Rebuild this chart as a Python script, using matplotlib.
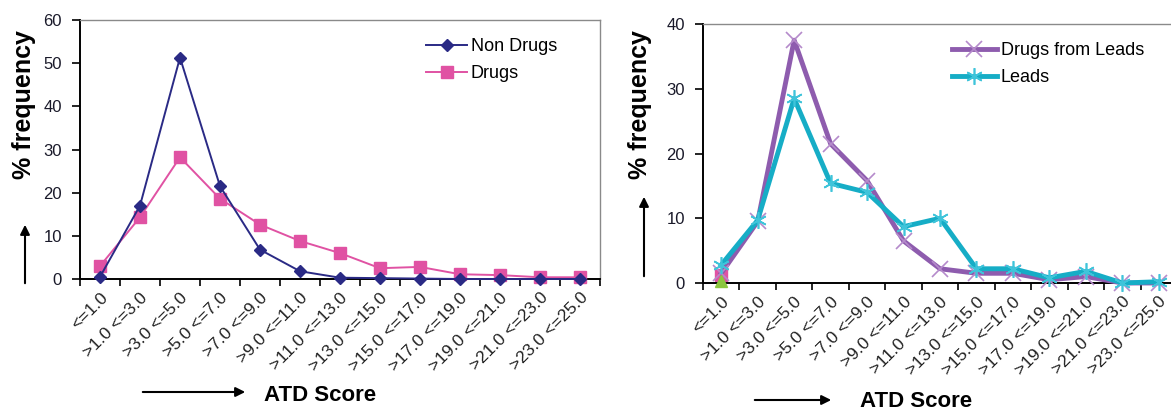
import matplotlib
matplotlib.use("Agg")
import matplotlib.pyplot as plt
import numpy as np

plt.rcParams['font.family'] = ['Liberation Sans', 'DejaVu Sans']

categories = ["<=1.0", ">1.0 <=3.0", ">3.0 <=5.0", ">5.0 <=7.0", ">7.0 <=9.0",
              ">9.0 <=11.0", ">11.0 <=13.0", ">13.0 <=15.0", ">15.0 <=17.0",
              ">17.0 <=19.0", ">19.0 <=21.0", ">21.0 <=23.0", ">23.0 <=25.0"]

non_drugs = [0.5, 17.0, 51.3, 21.5, 6.8, 1.8, 0.3, 0.2, 0.1, 0.0, 0.0, 0.0, 0.0]
drugs = [3.0, 14.3, 28.2, 18.6, 12.6, 8.8, 6.0, 2.5, 2.8, 1.1, 0.9, 0.4, 0.4]

drugs_from_leads = [1.5, 9.5, 37.5, 21.5, 15.8, 6.5, 2.2, 1.5, 1.5, 0.5, 1.0, 0.0, 0.0]
leads = [2.8, 9.7, 28.5, 15.4, 14.0, 8.7, 10.0, 2.2, 2.2, 0.8, 1.8, 0.0, 0.2]
extra_square = [1.2]
extra_triangle = [0.3]

W, H = 1171, 411
fig = plt.figure(figsize=(W / 100, H / 100), dpi=100)
fig.patch.set_facecolor('white')

def px_axes(x0, y0_top, w, h):
    return fig.add_axes([x0 / W, (H - y0_top - h) / H, w / W, h / H])

x = np.arange(len(categories))
tick_col = '#1a1a2a'

def style_axes(ax, ymax, ystep):
    ax.set_xlim(-0.5, len(categories) - 0.5)
    ax.set_ylim(0, ymax)
    ax.set_yticks(np.arange(0, ymax + 0.1, ystep))
    ax.set_yticklabels([f"{int(v)}" for v in np.arange(0, ymax + 0.1, ystep)],
                       fontsize=12, color=tick_col)
    ax.set_xticks(x)
    ax.set_xticklabels(categories, rotation=45, ha='right', rotation_mode='anchor',
                       fontsize=12.5, color='#222222')
    ax.tick_params(axis='x', which='major', length=0, pad=8)
    ax.set_xticks(np.arange(-0.5, len(categories), 1.0), minor=True)
    ax.tick_params(axis='x', which='minor', length=5, width=1.2, direction='out', color='black')
    ax.tick_params(axis='y', length=6, width=1.2, direction='out', pad=7)
    for s in ['left', 'bottom']:
        ax.spines[s].set_color('black')
        ax.spines[s].set_linewidth(1.4)
    for s in ['top', 'right']:
        ax.spines[s].set_color('#8a8a8a')
        ax.spines[s].set_linewidth(1.0)

# Left chart
ax1 = px_axes(80, 20, 520, 259)
ax1.plot(x, non_drugs, color='#2a2a85', marker='D', markersize=6, linewidth=1.4,
         label='Non Drugs', clip_on=False, zorder=4)
ax1.plot(x, drugs, color='#e052a3', marker='s', markersize=9, linewidth=1.4,
         label='Drugs', clip_on=False, zorder=3)
style_axes(ax1, 60, 10)
leg1 = ax1.legend(loc='upper left', bbox_to_anchor=(0.665, 0.93), frameon=False,
                  fontsize=13, handlelength=2.3, handletextpad=0.2, labelspacing=0.55,
                  borderpad=0, borderaxespad=0)

# Right chart
ax2 = px_axes(703, 24, 474, 259)
ax2.plot(x, drugs_from_leads, color='#8e5cae', marker='x', markersize=11,
         markeredgecolor='#b58acb', markeredgewidth=1.2, linewidth=3.5,
         label='Drugs from Leads', clip_on=False, zorder=3)
ax2.plot(x, leads, color='#16adc6', marker=(6, 2, 0), markersize=12,
         markeredgecolor='#3fc4da', markeredgewidth=1.2, linewidth=3.5,
         label='Leads', clip_on=False, zorder=4)
ax2.plot([0], extra_square, color='#e052a3', marker='s', markersize=8, linestyle='none',
         clip_on=False, zorder=2)
ax2.plot([0], extra_triangle, color='#8cc63f', marker='^', markersize=9, linestyle='none',
         clip_on=False, zorder=5)
style_axes(ax2, 40, 10)
leg2 = ax2.legend(loc='upper left', bbox_to_anchor=(0.525, 0.93), frameon=False,
                  fontsize=13, handlelength=2.5, handletextpad=0.2, labelspacing=0.55,
                  borderpad=0, borderaxespad=0)

def fx(px):
    return px / W

def fy(py):
    return (H - py) / H

fig.text(fx(24), fy(105), '% frequency', rotation=90, ha='center', va='center',
         fontsize=18, fontweight='bold', color='black')
fig.text(fx(640), fy(105), '% frequency', rotation=90, ha='center', va='center',
         fontsize=18, fontweight='bold', color='black')

def arrow(x0, y0, x1, y1):
    fig.add_artist(matplotlib.patches.FancyArrowPatch(
        (fx(x0), fy(y0)), (fx(x1), fy(y1)), transform=fig.transFigure,
        arrowstyle='-|>', mutation_scale=14, color='black', linewidth=1.5))

arrow(25, 286, 25, 222)
arrow(644, 279, 644, 194)
arrow(140, 392, 248, 392)
arrow(752, 400, 834, 400)

fig.text(fx(320), fy(395), 'ATD Score', ha='center', va='center', fontsize=16,
         fontweight='bold', color='black')
fig.text(fx(916), fy(401), 'ATD Score', ha='center', va='center', fontsize=16,
         fontweight='bold', color='black')

fig.savefig('out.png', dpi=100, facecolor='white')
